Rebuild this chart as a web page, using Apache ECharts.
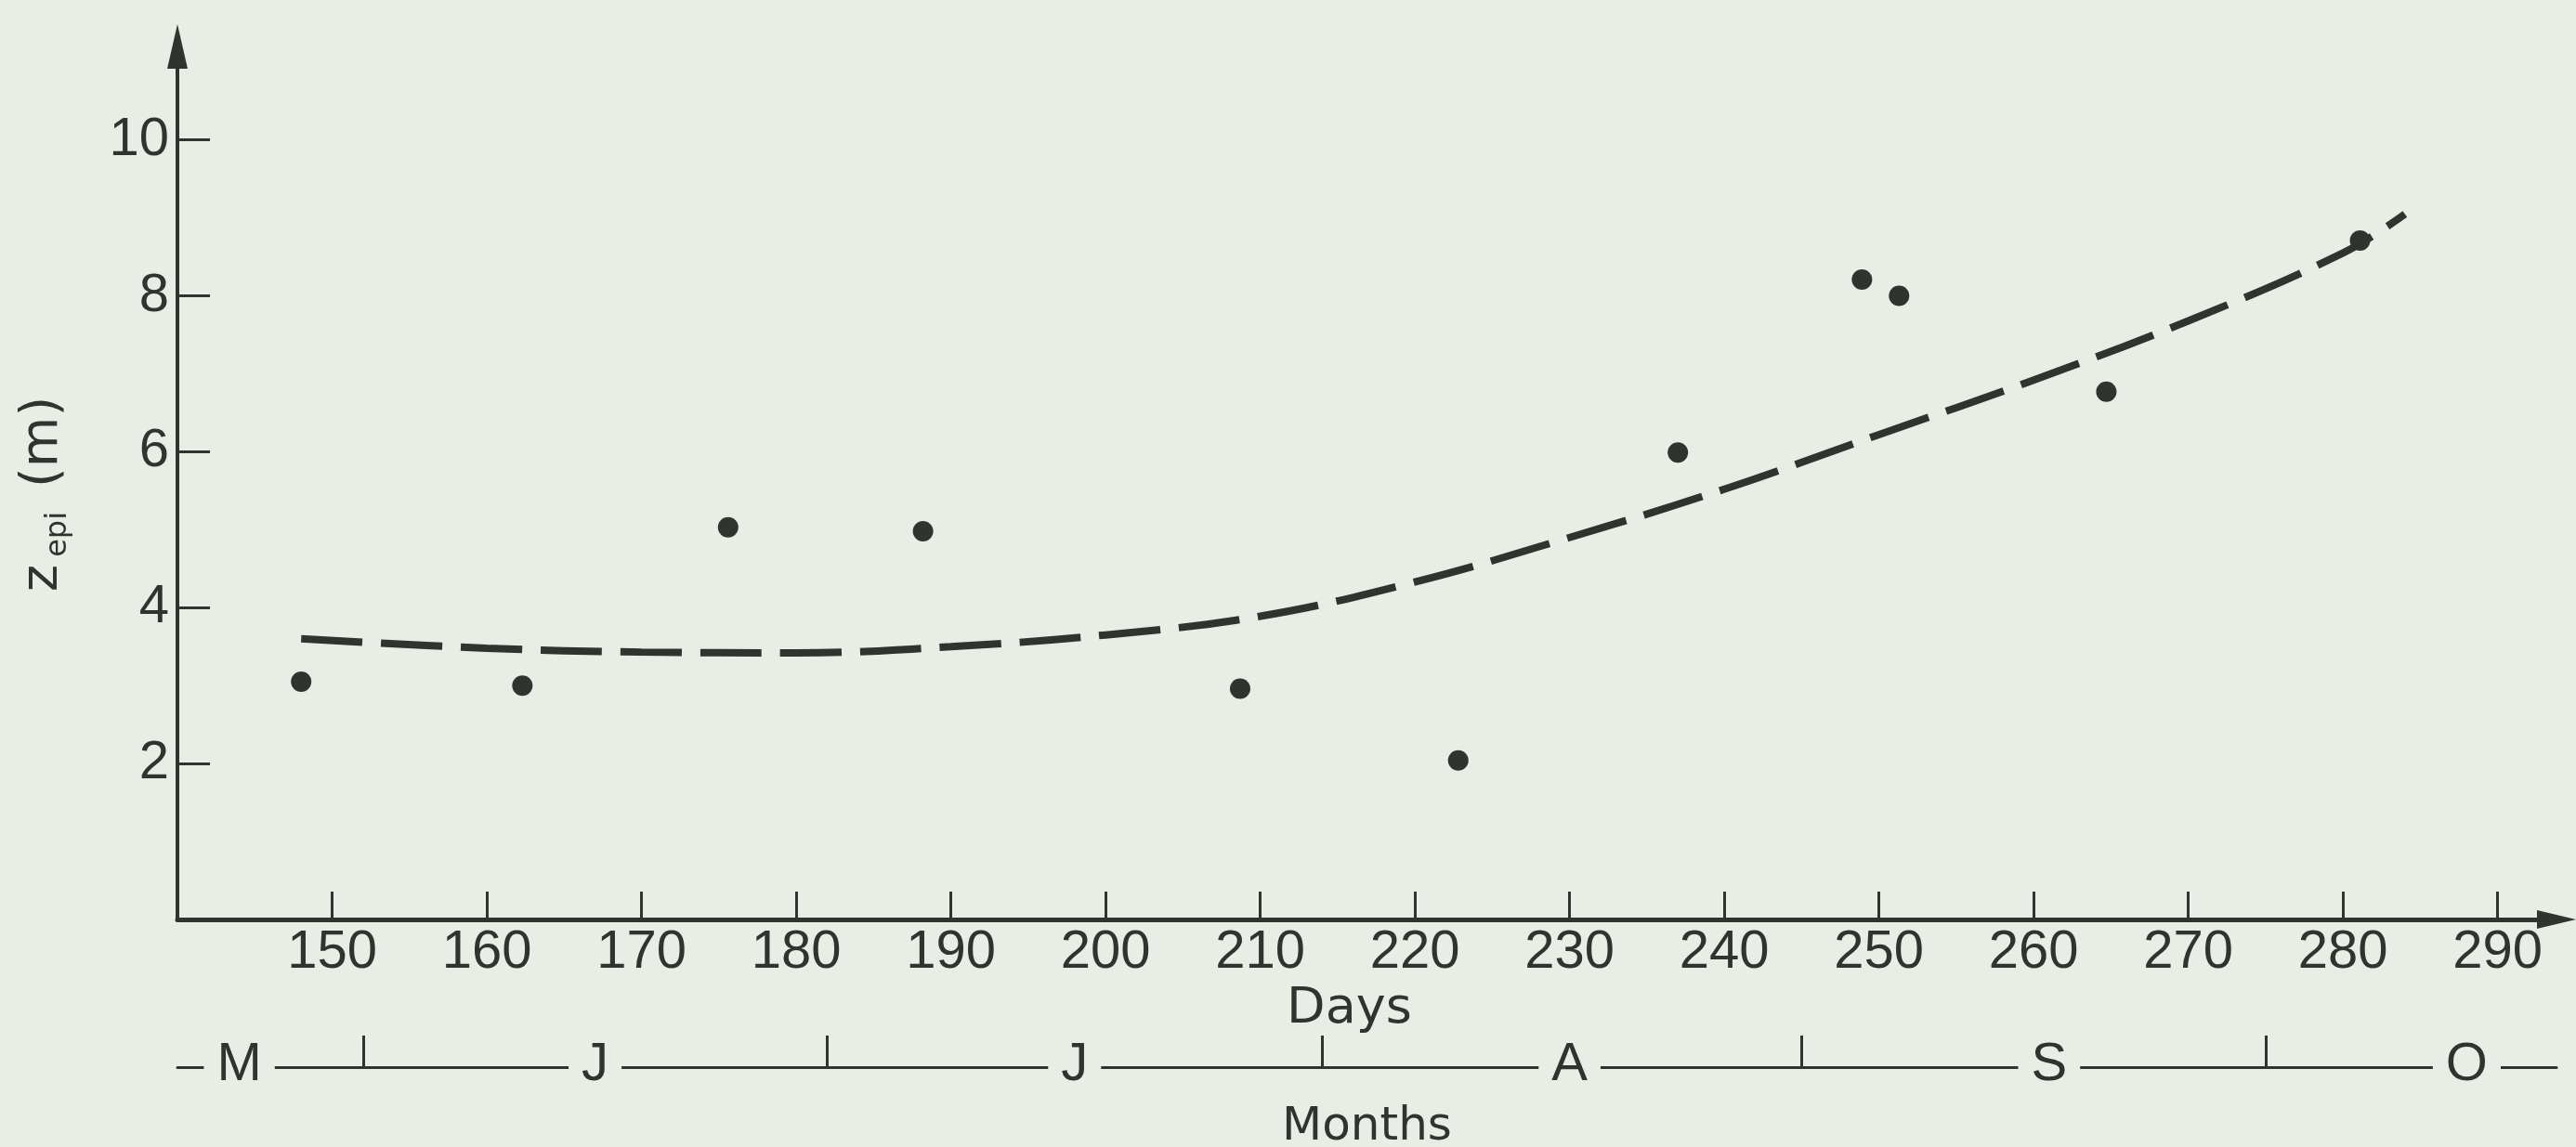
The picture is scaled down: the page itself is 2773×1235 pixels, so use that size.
<!DOCTYPE html>
<html>
<head>
<meta charset="utf-8">
<script src="https://cdn.jsdelivr.net/npm/echarts@6/dist/echarts.min.js"></script>
<style>
  html, body { margin: 0; padding: 0; background: #e9ede5; }
  #main { width: 2773px; height: 1235px; }
</style>
</head>
<body>
<div id="main"></div>
<script>
// measured points (day of year, epilimnion depth in m)
var sampleDays = [148, 162.3, 175.6, 188.2, 208.7, 222.8, 237, 248.9, 251.3, 264.7, 281.1];
var sampleDepth = [3.05, 3.0, 5.03, 4.98, 2.96, 2.04, 5.99, 8.21, 8.0, 6.77, 8.71];

// dashed trend curve, every 10 days
var curveDays = [148, 160, 170, 180, 190, 200, 210, 220, 230, 240, 250, 260, 270, 280, 284];
var curveDepth = [3.60, 3.48, 3.43, 3.42, 3.50, 3.65, 3.89, 4.33, 4.90, 5.52, 6.22, 6.92, 7.68, 8.55, 9.05];

// axis ticks
var dayTicks = [150, 160, 170, 180, 190, 200, 210, 220, 230, 240, 250, 260, 270, 280, 290];
var depthTicks = [2, 4, 6, 8, 10];
var monthTicks = [152, 182, 214, 245, 275];   // month boundaries
var monthLabelPos = [144, 167, 198, 230, 261, 288];
var monthNames = ['M', 'J', 'J', 'A', 'S', 'O'];

var ink = '#2f342f';
var bg = '#e9ede5';
var digitFont = '"Liberation Sans", Arial, sans-serif';
var wordFont = '"DejaVu Sans", sans-serif';

var chart = echarts.init(document.getElementById('main'));

var scatterData = sampleDays.map(function (d, i) { return [d, sampleDepth[i]]; });
var curveData = curveDays.map(function (d, i) { return [d, curveDepth[i]]; });

chart.setOption({
  backgroundColor: bg,
  animation: false,
  grid: { left: 191, right: 21, top: 50, bottom: 245, outerBoundsMode: 'none', containLabel: false },
  xAxis: [{
    type: 'value',
    min: 140,
    max: 293.8,
    position: 'bottom',
    splitLine: { show: false },
    axisLine: { show: true, lineStyle: { color: ink, width: 5 }, symbol: ['none', 'triangle'], symbolSize: [20, 42] },
    axisTick: { show: true, inside: true, length: 30, lineStyle: { color: ink, width: 3 }, customValues: dayTicks },
    axisLabel: { color: ink, fontFamily: digitFont, fontSize: 58, margin: 7, customValues: dayTicks },
    name: 'Days',
    nameLocation: 'middle',
    nameGap: 55,
    nameTextStyle: { color: ink, fontFamily: wordFont, fontSize: 54, padding: [0, 38, 0, 0] }
  }, {
    type: 'value',
    min: 140,
    max: 293.8,
    position: 'bottom',
    offset: 159,
    splitLine: { show: false },
    axisLine: { show: true, lineStyle: { color: ink, width: 3 } },
    axisTick: { show: true, inside: true, length: 34, lineStyle: { color: ink, width: 3 }, customValues: monthTicks },
    axisLabel: {
      color: ink, fontFamily: digitFont, fontSize: 58, margin: -2,
      verticalAlign: 'middle', backgroundColor: bg, padding: [0, 14, 0, 14],
      customValues: monthLabelPos,
      formatter: function (v) {
        var i = monthLabelPos.indexOf(v);
        return i >= 0 ? monthNames[i] : '';
      }
    },
    name: 'Months',
    nameLocation: 'middle',
    nameGap: 40,
    nameTextStyle: { color: ink, fontFamily: wordFont, fontSize: 50, lineHeight: 50 }
  }],
  yAxis: {
    type: 'value',
    min: 0,
    max: 11.2,
    splitLine: { show: false },
    axisLine: { show: true, lineStyle: { color: ink, width: 4 }, symbol: ['none', 'triangle'], symbolSize: [22, 48] },
    axisTick: { show: true, inside: true, length: 35, lineStyle: { color: ink, width: 3 }, customValues: depthTicks },
    axisLabel: { color: ink, fontFamily: digitFont, fontSize: 58, margin: 9, customValues: depthTicks },
    name: '{z|z}{sub|epi}{p|(m)}',
    nameLocation: 'middle',
    nameGap: 112,
    nameTextStyle: {
      color: ink,
      padding: [0, 24, 0, 0],
      rich: {
        z: { fontFamily: wordFont, fontSize: 56, lineHeight: 66, color: ink },
        sub: { fontFamily: wordFont, fontSize: 32, lineHeight: 30, verticalAlign: 'bottom', color: ink, padding: [0, 26, 0, 8] },
        p: { fontFamily: wordFont, fontSize: 56, lineHeight: 66, color: ink }
      }
    }
  },
  series: [{
    type: 'line',
    data: curveData,
    smooth: 0.4,
    showSymbol: false,
    symbol: 'none',
    lineStyle: { color: ink, width: 8, type: [66, 20], cap: 'butt' },
    z: 2
  }, {
    type: 'scatter',
    data: scatterData,
    symbol: 'circle',
    symbolSize: 22,
    itemStyle: { color: ink, opacity: 1 },
    z: 3
  }]
});
</script>
</body>
</html>
